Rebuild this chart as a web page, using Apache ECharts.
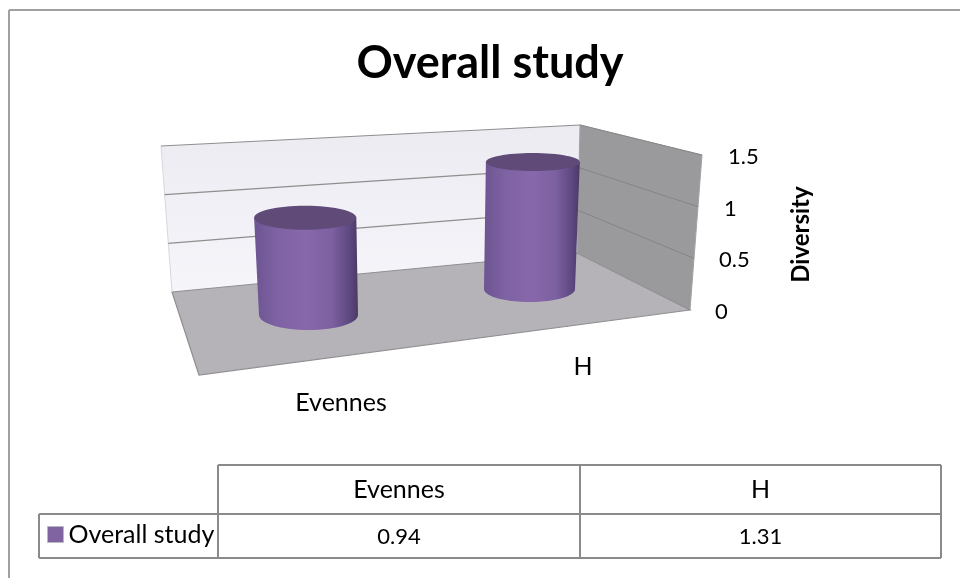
<!DOCTYPE html>
<html>
<head>
<meta charset="utf-8">
<style>html,body{margin:0;padding:0;background:#fff}#chart{width:960px;height:578px}</style>
<script src="https://cdn.jsdelivr.net/npm/echarts@6/dist/echarts.min.js"></script>
</head>
<body>
<div id="chart"></div>
<script>
// Chart content
const chartTitle = 'Overall study';
const seriesName = 'Overall study';
const axisName = 'Diversity';
const categories = ['Evennes', 'H'];
const values = [0.94, 1.31];
const valueTicks = [0, 0.5, 1, 1.5];

// Look of the 3D box: corners are [value 0, top of axis] pairs along each vertical edge
const FONT = 'Lato, "Open Sans", sans-serif';
const wallEdges = {
  backLeft:  { bottom: [172, 292], top: [161, 146] },
  backRight: { bottom: [577, 253], top: [580, 125] },
  sideRight: { bottom: [690, 310], top: [702, 155] }
};
const floorFrontLeft = [199, 375];
// Depth-related scale, floor slant and radii for the cylinders
const depthScale = [1.0, 0.938];
const floorSlope = -0.1176;
const floorAnchor = [308.5, 315];
const radiusX = [49.5, 45.5];
const radiusYBottom = [15, 13];
const radiusYTop = [12, 9];
const topSpread = 0.03;
const labelOffset = [[32.5, 88], [53.5, 78]];

const axisMax = valueTicks[valueTicks.length - 1];
const lerp = (a, b, t) => [a[0] + (b[0] - a[0]) * t, a[1] + (b[1] - a[1]) * t];
const onEdge = (edge, v) => lerp(edge.bottom, edge.top, v / axisMax);

function renderBox() {
  const { backLeft, backRight, sideRight } = wallEdges;
  const children = [
    {
      type: 'polygon',
      shape: { points: [backLeft.top, backRight.top, backRight.bottom, backLeft.bottom] },
      style: {
        fill: { type: 'linear', x: 0, y: 0, x2: 0, y2: 1, colorStops: [
          { offset: 0, color: '#ecebf2' }, { offset: 1, color: '#f6f5fa' }
        ] }
      }
    },
    {
      type: 'polygon',
      shape: { points: [backRight.top, sideRight.top, sideRight.bottom, backRight.bottom] },
      style: { fill: '#9a999c', stroke: '#a3a2a5', lineWidth: 1 }
    },
    {
      type: 'polygon',
      shape: { points: [backLeft.bottom, backRight.bottom, sideRight.bottom, floorFrontLeft] },
      style: { fill: '#b5b3b8', stroke: '#8f8f91', lineWidth: 1.2 }
    },
    {
      type: 'line',
      shape: { x1: backLeft.bottom[0], y1: backLeft.bottom[1], x2: backLeft.top[0], y2: backLeft.top[1] },
      style: { stroke: '#d8d7dc', lineWidth: 1 }
    }
  ];
  valueTicks.slice(1).forEach(v => {
    const a = onEdge(backLeft, v), b = onEdge(backRight, v), c = onEdge(sideRight, v);
    children.push({
      type: 'line',
      shape: { x1: a[0], y1: a[1], x2: b[0], y2: b[1] },
      style: { stroke: '#8e8e8e', lineWidth: 1.2 }
    });
    children.push({
      type: 'line',
      shape: { x1: b[0], y1: b[1], x2: c[0], y2: c[1] },
      style: { stroke: '#858487', lineWidth: 1 }
    });
  });
  return { type: 'group', children };
}

function renderCylinder(params, api) {
  const i = api.value(0);
  const v = api.value(1);
  const axisPoint = api.coord([i, 0]);
  const cx = axisPoint[0];
  const cy = floorAnchor[1] + floorSlope * (cx - floorAnchor[0]);
  const h = api.size([0, v])[1] * depthScale[i];
  const topY = cy - h;
  const topX = cx + (cx - 418) * topSpread;
  const rx = radiusX[i];
  const rxTop = rx * 1.032;
  const ryB = radiusYBottom[i];
  const ryT = radiusYTop[i];

  const outline = [[topX - rxTop, topY]];
  for (let d = 180; d >= 0; d -= 6) {
    const a = d * Math.PI / 180;
    outline.push([cx + rx * Math.cos(a), cy + ryB * Math.sin(a)]);
  }
  outline.push([topX + rxTop, topY]);

  return {
    type: 'group',
    children: [
      {
        type: 'polygon',
        shape: { points: outline },
        style: {
          fill: { type: 'linear', x: 0, y: 0, x2: 1, y2: 0, colorStops: [
            { offset: 0, color: '#6c5590' },
            { offset: 0.22, color: '#7e62a3' },
            { offset: 0.5, color: '#8868ab' },
            { offset: 0.75, color: '#7c60a0' },
            { offset: 0.92, color: '#5d4880' },
            { offset: 1, color: '#4a3a66' }
          ] }
        }
      },
      {
        type: 'ellipse',
        shape: { cx: topX, cy: topY, rx: rxTop, ry: ryT },
        style: { fill: '#5f4a78' }
      },
      {
        type: 'text',
        x: cx + labelOffset[i][0],
        y: cy + labelOffset[i][1],
        style: {
          text: categories[i], font: '25px ' + FONT, fill: '#000',
          align: 'center', verticalAlign: 'middle'
        }
      }
    ]
  };
}

// Data table below the plot, with the legend key sitting in its first column
const tableColor = '#8a8a8a';
const tableRows = { top: 465, mid: 514, bottom: 558 };
const tableCols = { key: 39, first: 218, second: 580, end: 941 };
function tableLine(x1, y1, x2, y2) {
  return { type: 'line', shape: { x1, y1, x2, y2 }, style: { stroke: tableColor, lineWidth: 2 } };
}
function tableText(text, x, y, size) {
  return { type: 'text', x, y, style: { text, font: size + 'px ' + FONT, fill: '#000', align: 'center', verticalAlign: 'middle' } };
}
const colCentres = [(tableCols.first + tableCols.second) / 2, (tableCols.second + tableCols.end) / 2];
const tableGraphic = [
  { type: 'line', shape: { x1: 9, y1: 10, x2: 960, y2: 10 }, style: { stroke: '#a0a0a0', lineWidth: 2 } },
  { type: 'line', shape: { x1: 9, y1: 10, x2: 9, y2: 578 }, style: { stroke: '#a0a0a0', lineWidth: 2 } },
  tableLine(tableCols.first, tableRows.top, tableCols.end, tableRows.top),
  tableLine(tableCols.key, tableRows.mid, tableCols.end, tableRows.mid),
  tableLine(tableCols.key, tableRows.bottom, tableCols.end, tableRows.bottom),
  tableLine(tableCols.key, tableRows.mid, tableCols.key, tableRows.bottom),
  tableLine(tableCols.first, tableRows.top, tableCols.first, tableRows.bottom),
  tableLine(tableCols.second, tableRows.top, tableCols.second, tableRows.bottom),
  tableLine(tableCols.end, tableRows.top, tableCols.end, tableRows.bottom)
];
categories.forEach((c, i) => {
  tableGraphic.push(tableText(c, colCentres[i], 490, 25));
  tableGraphic.push(tableText(String(values[i]), colCentres[i], 537, 22));
});

const chart = echarts.init(document.getElementById('chart'), null, { renderer: 'canvas' });
chart.setOption({
  animation: false,
  backgroundColor: '#ffffff',
  title: {
    text: chartTitle,
    left: 490, top: 41, textAlign: 'center', padding: 0,
    textStyle: { fontFamily: FONT, fontSize: 45, fontWeight: 'bold', color: '#000' }
  },
  legend: {
    left: 47, top: 522, padding: 0, itemWidth: 16, itemHeight: 16,
    textStyle: { fontFamily: FONT, fontSize: 25, color: '#000' },
    data: [{ name: seriesName, icon: 'rect', itemStyle: { color: '#8064a2', borderColor: '#b9b9c2', borderWidth: 1 } }]
  },
  grid: { left: 198, width: 442, top: 157, height: 155 },
  xAxis: { type: 'category', data: categories, show: false },
  yAxis: {
    type: 'value', position: 'right', offset: 75, min: 0, max: axisMax, interval: 0.5,
    name: axisName, nameLocation: 'middle', nameGap: 74, nameRotate: 90,
    nameTextStyle: { fontFamily: FONT, fontSize: 24, fontWeight: 'bold', color: '#000' },
    axisLine: { show: false }, axisTick: { show: false }, splitLine: { show: false },
    axisLabel: {
      margin: 0, align: 'left',
      formatter: (v, i) => `{t${i}|${v}}`,
      rich: Object.fromEntries(valueTicks.map((_, i) => [
        't' + i,
        { fontFamily: FONT, fontSize: 22, color: '#000', padding: [0, 0, 0, [0, 4, 9, 13][i]] }
      ]))
    }
  },
  graphic: tableGraphic.map(e => Object.assign({ silent: true }, e)),
  series: [
    {
      type: 'custom', name: 'box', silent: true, z: 1,
      data: [[0, 0]], renderItem: renderBox, encode: { x: 0, y: 1 }
    },
    {
      type: 'custom', name: seriesName, z: 2,
      data: values.map((v, i) => [i, v]),
      renderItem: renderCylinder,
      encode: { x: 0, y: 1 },
      itemStyle: { color: '#8064a2' }
    }
  ]
});
</script>
</body>
</html>
